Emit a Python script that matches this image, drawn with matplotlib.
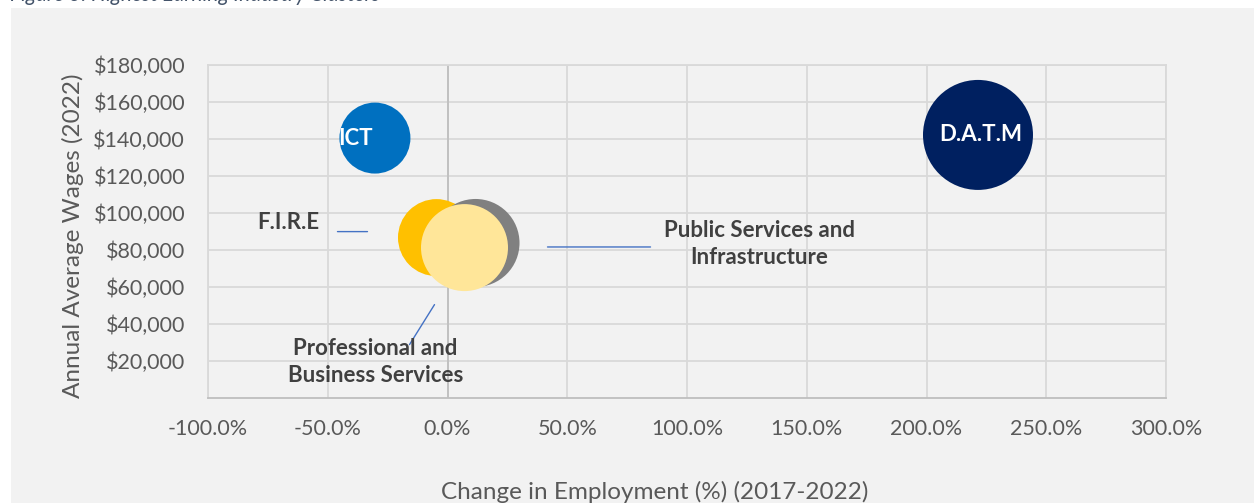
import matplotlib.pyplot as plt
from matplotlib.patches import Rectangle
from matplotlib.ticker import FuncFormatter
from matplotlib.transforms import offset_copy

plt.rcParams['font.family'] = ['Lato', 'DejaVu Sans']
plt.rcParams['axes.unicode_minus'] = False

# data
clusters = ['ICT', 'D.A.T.M', 'F.I.R.E', 'Public Services and\nInfrastructure',
            'Professional and\nBusiness Services']
emp_change = [-30.3, 221.5, -4.6, 11.7, 7.1]          # % change 2017-2022
avg_wage = [140500, 142200, 86700, 83800, 81300]      # annual average wages 2022
bubble_area = [1260, 3025, 1482, 1936, 1892]          # relative bubble size
colors = ['#0070C0', '#002060', '#FFC000', '#808080', '#FFE699']

x_ticks = [-100, -50, 0, 50, 100, 150, 200, 250, 300]
y_ticks = [20000, 40000, 60000, 80000, 100000, 120000, 140000, 160000, 180000]

W, H = 1254, 503
fig = plt.figure(figsize=(W / 100, H / 100), dpi=100, facecolor='white')

# grey chart panel and cropped caption above it
fig.patches.append(Rectangle((11 / W, 0), 1 - 11 / W, 1 - 8 / H,
                             transform=fig.transFigure, facecolor='#F2F2F2',
                             edgecolor='none', zorder=-10))
fig.text(10 / W, 1 - 1 / H, 'Figure 3: Highest Earning Industry Clusters',
         fontsize=15, style='italic', color='#44546A', va='baseline', ha='left')

ax = fig.add_axes([208 / W, 1 - 398 / H, (1166 - 208) / W, (398 - 65) / H])
ax.set_facecolor('#F2F2F2')

ax.set_xlim(-100, 300)
ax.set_ylim(0, 180000)
ax.set_xticks(x_ticks)
ax.set_yticks(y_ticks)
ax.xaxis.set_major_formatter(FuncFormatter(lambda v, p: f'{v:.1f}%'))
ax.yaxis.set_major_formatter(FuncFormatter(lambda v, p: f'${v:,.0f}'))
ax.tick_params(length=0, labelsize=15.5, labelcolor='#595959')
ax.tick_params(axis='x', pad=15)
ax.tick_params(axis='y', pad=16.5)

ax.grid(True, color='#D9D9D9', lw=1.3, zorder=0)
ax.set_axisbelow(True)
for s in ['left', 'top', 'right']:
    ax.spines[s].set_color('#D9D9D9')
    ax.spines[s].set_linewidth(1.3)
ax.spines['bottom'].set_color('#BFBFBF')
ax.spines['bottom'].set_linewidth(1.3)
ax.axvline(0, color='#BFBFBF', lw=1.3, zorder=1)

# px -> scatter area (pt^2): diameter 2*r px, 0.72 pt per px
scale = (2 * 0.72) ** 2
ax.scatter(emp_change, avg_wage, s=[a * scale for a in bubble_area],
           c=colors, linewidths=0, zorder=3)

ax.set_xlabel('Change in Employment (%) (2017-2022)', fontsize=17.5,
              color='#595959', labelpad=30)
ax.xaxis.label.set_x(0.4666)
ax.set_ylabel('Annual Average Wages (2022)', fontsize=17.5, color='#595959',
              labelpad=7)
ax.yaxis.label.set_y(0.486)

# labels: (text offset px, leader start px, leader end px) from bubble centre
lbl = {
    0: ((-19, 0), None, None),
    1: ((3, 0), None, None),
    2: ((-148, 15), (-99, 6), (-69, 6)),
    3: ((284, -1), (72, -4), (175, -4)),
    4: ((-89, -114), (-30, -57), (-55, -97)),
}
for i, name in enumerate(clusters):
    off, l0, l1 = lbl[i]
    inside = i < 2
    ax.annotate(name, (emp_change[i], avg_wage[i]), xytext=off,
                textcoords='offset pixels', ha='center', va='center',
                fontsize=16, fontweight='bold', linespacing=1.35,
                color='white' if inside else '#404040', zorder=5)
    if l0 is not None:
        tr = offset_copy(ax.transData, fig=fig, x=l1[0], y=l1[1], units='dots')
        ax.annotate('', (emp_change[i], avg_wage[i]), xycoords=tr,
                    xytext=(l0[0] - l1[0], l0[1] - l1[1]),
                    textcoords='offset pixels',
                    arrowprops=dict(arrowstyle='-', color='#4472C4', lw=1,
                                    shrinkA=0, shrinkB=0),
                    zorder=4)

fig.savefig('out.png', dpi=100, facecolor='white')
